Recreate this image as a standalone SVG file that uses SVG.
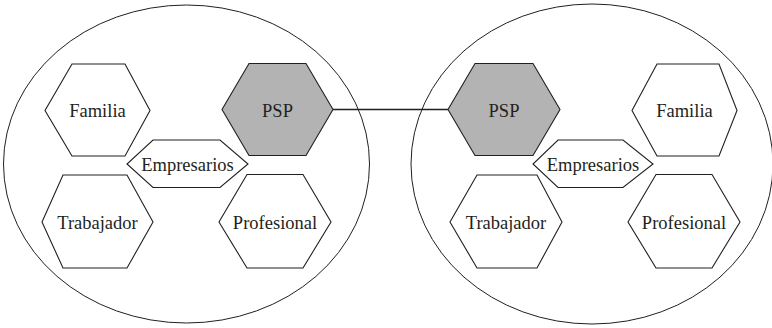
<svg xmlns="http://www.w3.org/2000/svg" width="772" height="328" viewBox="0 0 772 328">
  <style>
    .ring { fill: none; stroke: #231f20; stroke-width: 1; }
    .hex { fill: #ffffff; stroke: #231f20; stroke-width: 1.1; stroke-linejoin: miter; }
    .hex.key { fill: #b3b3b3; }
    .lbl { font-family: "Liberation Serif", "Times New Roman", serif; font-size: 18.5px; fill: #231f20; text-anchor: middle; }
    .link { stroke: #231f20; stroke-width: 1.5; fill: none; }
  </style>

  <!-- Two groupings -->
  <g id="group-left">
    <ellipse class="ring" cx="186.5" cy="164" rx="183" ry="159"/>
  </g>
  <g id="group-right">
    <ellipse class="ring" cx="592" cy="164" rx="181" ry="160"/>
  </g>

  <!-- Connector between the two PSP nodes -->
  <g id="connectors">
    <line class="link" x1="333" y1="109.5" x2="448" y2="109.5"/>
  </g>

  <!-- Left grouping nodes -->
  <g id="familia-l">
    <polygon class="hex" points="72,64 125,64 150,110.5 125,156 72,156 45,110.5"/>
    <text class="lbl" x="97.5" y="117">Familia</text>
  </g>
  <g id="psp-l">
    <polygon class="hex key" points="249,63.5 306,63.5 333,109.5 306,155.5 249,155.5 222,109.5"/>
    <text class="lbl" x="277.5" y="117">PSP</text>
  </g>
  <g id="empresarios-l">
    <polygon class="hex" points="153,140 220,140 248,164 220,187.5 153,187.5 127,164"/>
    <text class="lbl" x="187.5" y="170.5">Empresarios</text>
  </g>
  <g id="trabajador-l">
    <polygon class="hex" points="63,175 127,175 153,222 127,268 63,268 42,222"/>
    <text class="lbl" x="97.5" y="228.5">Trabajador</text>
  </g>
  <g id="profesional-l">
    <polygon class="hex" points="247,174.5 303,174.5 331,222 303,268 247,268 219,222"/>
    <text class="lbl" x="275" y="228.5">Profesional</text>
  </g>

  <!-- Right grouping nodes -->
  <g id="psp-r">
    <polygon class="hex key" points="475,63.5 533,63.5 560,109.5 533,155.5 475,155.5 448,109.5"/>
    <text class="lbl" x="504" y="117">PSP</text>
  </g>
  <g id="familia-r">
    <polygon class="hex" points="657,64 719,64 737,110.5 719,156 657,156 632,110.5"/>
    <text class="lbl" x="684.5" y="117">Familia</text>
  </g>
  <g id="empresarios-r">
    <polygon class="hex" points="558,140 623,140 653,164 623,187.5 558,187.5 533,164"/>
    <text class="lbl" x="593" y="170.5">Empresarios</text>
  </g>
  <g id="trabajador-r">
    <polygon class="hex" points="477,175 537,175 562,222 537,268 477,268 450,222"/>
    <text class="lbl" x="506" y="228.5">Trabajador</text>
  </g>
  <g id="profesional-r">
    <polygon class="hex" points="656,174.5 712,174.5 740,222 712,268 656,268 628,222"/>
    <text class="lbl" x="684" y="228.5">Profesional</text>
  </g>
</svg>
